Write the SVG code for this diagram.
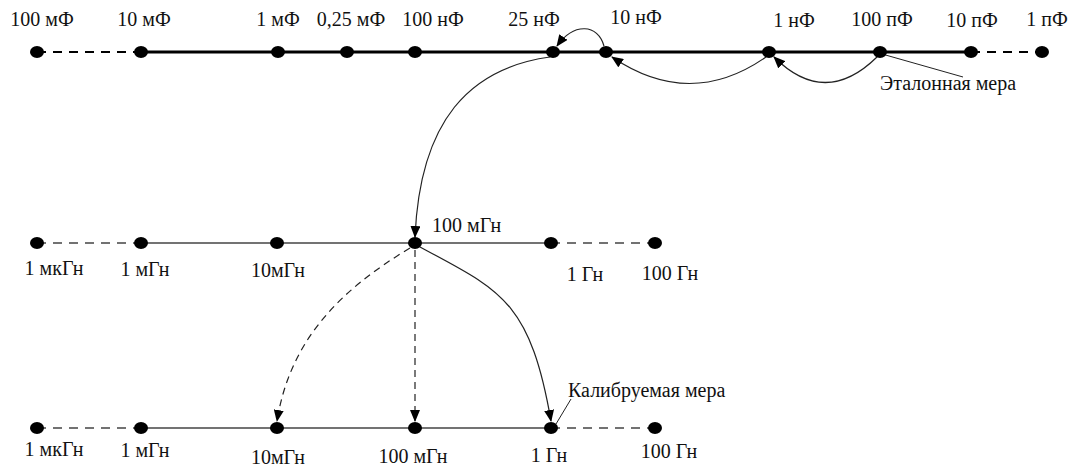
<svg xmlns="http://www.w3.org/2000/svg" width="1071" height="469" viewBox="0 0 1071 469">
<style>
text{font-family:"Liberation Serif","Times New Roman",serif;font-size:20px;fill:#111}
.dot{fill:#000}
.top{stroke:#000;stroke-width:3;fill:none}
.topd{stroke:#000;stroke-width:2;stroke-dasharray:9 7;fill:none}
.sc{stroke:#444;stroke-width:1.6;fill:none}
.scd{stroke:#444;stroke-width:1.6;stroke-dasharray:9 7;fill:none}
.arr{stroke:#222;stroke-width:1.2;fill:none;marker-end:url(#ah)}
.arrd{stroke:#222;stroke-width:1.2;fill:none;stroke-dasharray:7 5;marker-end:url(#ah)}
.lead{stroke:#222;stroke-width:1;fill:none}
</style>
<defs>
<marker id="ah" viewBox="0 0 12 10" refX="11" refY="5" markerWidth="12" markerHeight="10" markerUnits="userSpaceOnUse" orient="auto">
<path d="M0,0 L12,5 L0,10 z" fill="#000"/>
</marker>
</defs>
<g id="scales">
<path class="topd" d="M37,52 H141 M971,52 H1042"/>
<path class="top" d="M141,52 H971"/>
<path class="scd" d="M37,243 H141 M551,243 H655"/>
<path class="sc" d="M141,243 H551"/>
<path class="scd" d="M37,428 H141 M551,428 H655"/>
<path class="sc" d="M141,428 H551"/>
</g>
<g id="connectors">
<path class="arr" d="M604,46 C598,24 574,22 557,46"/>
<path class="arr" d="M766,57 Q690,110 612,57"/>
<path class="arr" d="M877,57 Q825,108 774,57"/>
<path class="arr" d="M550,57 C470,68 420,120 415,237"/>
<path class="arrd" d="M410,248 C340,290 290,340 277,421"/>
<path class="arrd" d="M415,250 L415,421"/>
<path class="arr" d="M420,247 C500,290 530,300 551,421"/>
<path class="lead" d="M882,54 L963,77"/>
<path class="lead" d="M556,424 L571,399"/>
</g>
<g id="n-100mF"><ellipse class="dot" cx="37" cy="52" rx="7" ry="6"/><text x="42" y="26" text-anchor="middle">100 мФ</text></g>
<g id="n-10mF"><ellipse class="dot" cx="141" cy="52" rx="7" ry="6"/><text x="144" y="26" text-anchor="middle">10 мФ</text></g>
<g id="n-1mF"><ellipse class="dot" cx="278" cy="52" rx="7" ry="6"/><text x="278" y="26" text-anchor="middle">1 мФ</text></g>
<g id="n-025mF"><ellipse class="dot" cx="347" cy="52" rx="7" ry="6"/><text x="351" y="26" text-anchor="middle">0,25 мФ</text></g>
<g id="n-100nF"><ellipse class="dot" cx="415" cy="52" rx="7" ry="6"/><text x="433" y="26" text-anchor="middle">100 нФ</text></g>
<g id="n-25nF"><ellipse class="dot" cx="553" cy="52" rx="7" ry="6"/><text x="534" y="26" text-anchor="middle">25 нФ</text></g>
<g id="n-10nF"><ellipse class="dot" cx="606" cy="52" rx="7" ry="6"/><text x="636" y="24" text-anchor="middle">10 нФ</text></g>
<g id="n-1nF"><ellipse class="dot" cx="769" cy="52" rx="7" ry="6"/><text x="794" y="27" text-anchor="middle">1 нФ</text></g>
<g id="n-100pF"><ellipse class="dot" cx="880" cy="52" rx="7" ry="6"/><text x="882" y="26" text-anchor="middle">100 пФ</text><text x="880" y="90">Эталонная мера</text></g>
<g id="n-10pF"><ellipse class="dot" cx="971" cy="52" rx="7" ry="6"/><text x="972" y="27" text-anchor="middle">10 пФ</text></g>
<g id="n-1pF"><ellipse class="dot" cx="1042" cy="52" rx="7" ry="6"/><text x="1047" y="26" text-anchor="middle">1 пФ</text></g>

<g id="m-1uH"><ellipse class="dot" cx="37" cy="243" rx="7" ry="6"/><text x="54" y="275" text-anchor="middle">1 мкГн</text></g>
<g id="m-1mH"><ellipse class="dot" cx="141" cy="243" rx="7" ry="6"/><text x="145" y="276" text-anchor="middle">1 мГн</text></g>
<g id="m-10mH"><ellipse class="dot" cx="277" cy="243" rx="7" ry="6"/><text x="278" y="277" text-anchor="middle">10мГн</text></g>
<g id="m-100mH"><ellipse class="dot" cx="415" cy="243" rx="7" ry="6"/><text x="432" y="232">100 мГн</text></g>
<g id="m-1H"><ellipse class="dot" cx="551" cy="243" rx="7" ry="6"/><text x="585" y="281" text-anchor="middle">1 Гн</text></g>
<g id="m-100H"><ellipse class="dot" cx="655" cy="243" rx="7" ry="6"/><text x="670" y="280" text-anchor="middle">100 Гн</text></g>

<g id="b-1uH"><ellipse class="dot" cx="37" cy="428" rx="7" ry="6"/><text x="54" y="456" text-anchor="middle">1 мкГн</text></g>
<g id="b-1mH"><ellipse class="dot" cx="141" cy="428" rx="7" ry="6"/><text x="145" y="457" text-anchor="middle">1 мГн</text></g>
<g id="b-10mH"><ellipse class="dot" cx="277" cy="428" rx="7" ry="6"/><text x="278" y="464" text-anchor="middle">10мГн</text></g>
<g id="b-100mH"><ellipse class="dot" cx="415" cy="428" rx="7" ry="6"/><text x="413" y="463" text-anchor="middle">100 мГн</text></g>
<g id="b-1H"><ellipse class="dot" cx="551" cy="428" rx="7" ry="6"/><text x="549" y="462" text-anchor="middle">1 Гн</text><text x="568" y="397">Калибруемая мера</text></g>
<g id="b-100H"><ellipse class="dot" cx="655" cy="428" rx="7" ry="6"/><text x="669" y="458" text-anchor="middle">100 Гн</text></g>
</svg>
